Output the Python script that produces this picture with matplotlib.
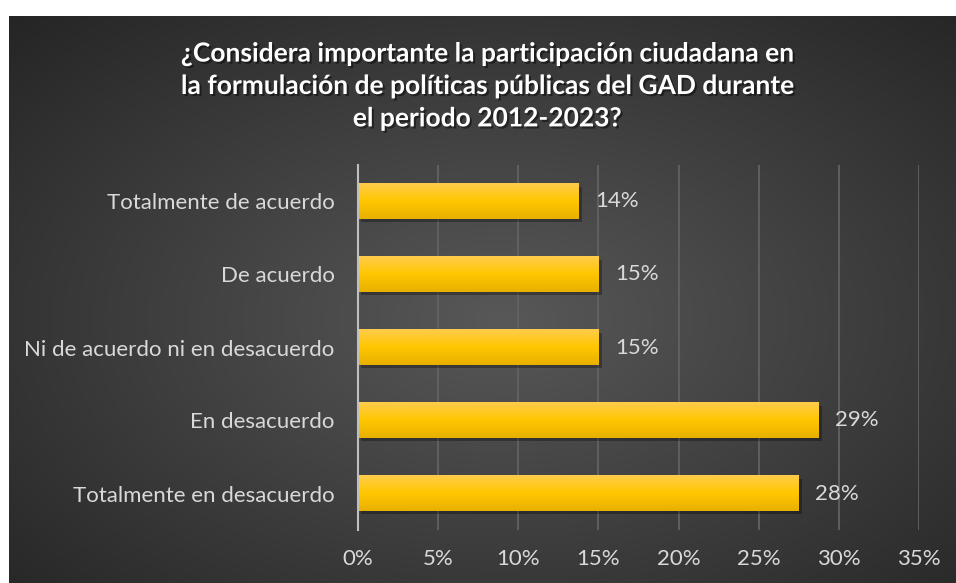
import numpy as np
import matplotlib
matplotlib.use("Agg")
import matplotlib.pyplot as plt
from matplotlib import patheffects as pe

categories = ["Totalmente de acuerdo", "De acuerdo", "Ni de acuerdo ni en desacuerdo",
              "En desacuerdo", "Totalmente en desacuerdo"]
values = [13.75, 15.0, 15.0, 28.75, 27.5]
labels = ["14%", "15%", "15%", "29%", "28%"]
xticks = [0, 5, 10, 15, 20, 25, 30, 35]
xticklabels = ["0%", "5%", "10%", "15%", "20%", "25%", "30%", "35%"]
title = ("¿Considera importante la participación ciudadana en\n"
         "la formulación de políticas públicas del GAD durante\n"
         "el periodo 2012-2023?")

FONT = "Lato"
W, H = 956, 583
fig = plt.figure(figsize=(W / 100, H / 100), dpi=100)
fig.patch.set_facecolor("white")

# background with radial gradient
bx0, by0 = 9 / W, 0
bw, bh = 1 - 9 / W, 1 - 16 / H
bg = fig.add_axes([bx0, by0, bw, bh])
yy, xx = np.mgrid[0:300, 0:500]
cx, cy = 260, 160
r = np.sqrt(((xx - cx) / 260) ** 2 + ((yy - cy) / 160) ** 2) / np.sqrt(2)
r = np.clip(r, 0, 1)
c0 = np.array([0x58, 0x58, 0x58]) / 255
c1 = np.array([0x25, 0x25, 0x25]) / 255
img = c0[None, None, :] * (1 - r[..., None]) + c1[None, None, :] * r[..., None]
bg.imshow(img, aspect="auto", extent=[0, 1, 0, 1])
bg.set_axis_off()

# title
fig.text(487 / W, 1 - 86 / H, title, ha="center", va="center", color="white",
         fontsize=19, fontweight="bold", family=FONT, linespacing=1.42,
         path_effects=[pe.withSimplePatchShadow(offset=(1.5, -1.5), shadow_rgbFace="black", alpha=0.45)])

# plot area
left, right = 358 / W, 919 / W
top, bottom = 1 - 165 / H, 1 - 530 / H
ax = fig.add_axes([left, bottom, right - left, top - bottom])
ax.set_facecolor("none")
ax.set_zorder(2)

y = np.arange(len(categories))
bars = ax.barh(y, values, height=0.48, color="#ffc000", zorder=3,
               path_effects=[pe.withSimplePatchShadow(offset=(2.5, -2.5), shadow_rgbFace="black", alpha=0.3)])

# vertical gradient on bars
grad = np.linspace(0, 1, 100)
top_c = np.array([1.0, 0.80, 0.30])
mid_c = np.array([1.0, 0.78, 0.0])
bot_c = np.array([0.91, 0.69, 0.0])
gimg = np.zeros((100, 1, 3))
for i, g in enumerate(grad):
    if g < 0.5:
        t = g / 0.5
        gimg[i, 0] = top_c * (1 - t) + mid_c * t
    else:
        t = (g - 0.5) / 0.5
        gimg[i, 0] = mid_c * (1 - t) + bot_c * t
for b in bars:
    x0, y0 = b.get_x(), b.get_y()
    w, h = b.get_width(), b.get_height()
    ax.imshow(gimg, aspect="auto", extent=[x0, x0 + w, y0 + h, y0], zorder=4,
              interpolation="bilinear")

for yi, v, lab in zip(y, values, labels):
    ax.annotate(lab, (v, yi), xytext=(12, 0), textcoords="offset points",
                ha="left", va="center", color="#d9d9d9", fontsize=16, family=FONT)

ax.set_xlim(0, 35)
ax.set_ylim(len(categories) - 0.5, -0.5)
ax.set_xticks(xticks)
ax.set_xticklabels(xticklabels)
ax.set_yticks(y)
ax.set_yticklabels(categories)
ax.tick_params(axis="both", length=0, colors="#d9d9d9", labelsize=16)
ax.tick_params(axis="x", pad=14)
ax.tick_params(axis="y", pad=17)
for t in ax.get_xticklabels() + ax.get_yticklabels():
    t.set_family(FONT)
ax.grid(axis="x", color="#626262", linewidth=1.3, zorder=0)
ax.grid(axis="y", visible=False)
for s in ["top", "right", "bottom"]:
    ax.spines[s].set_visible(False)
ax.spines["left"].set_color("#bfbfbf")
ax.spines["left"].set_linewidth(1.5)
ax.spines["left"].set_zorder(5)

fig.savefig("out.png", dpi=100, facecolor=fig.get_facecolor())
